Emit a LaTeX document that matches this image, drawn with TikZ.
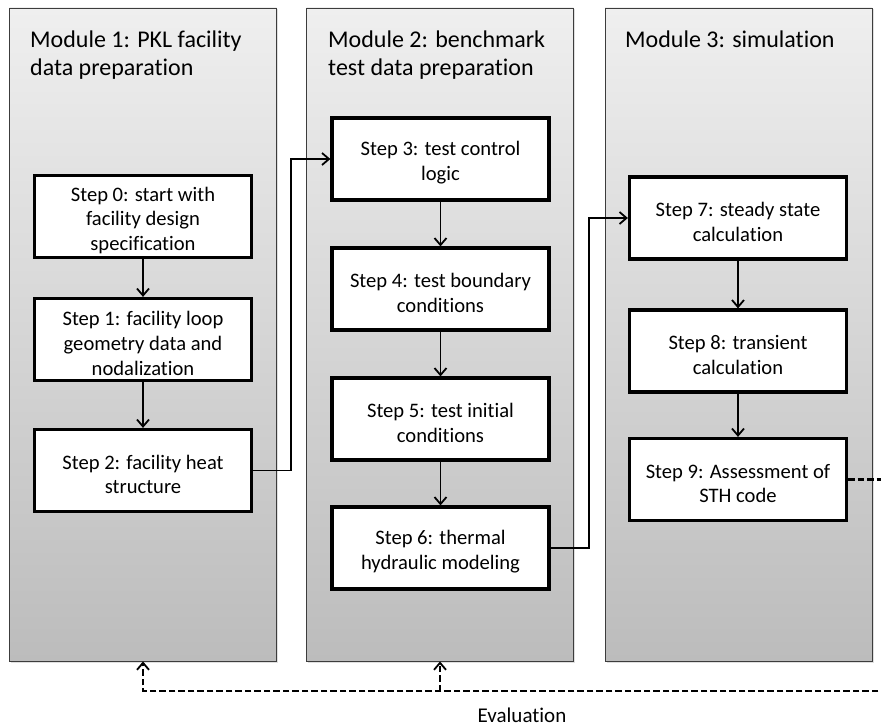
\documentclass[tikz,border=0pt]{standalone}
\usepackage{fontspec}
\setmainfont{Carlito}[Ligatures=NoCommon]
\usetikzlibrary{arrows.meta,shadows}

\definecolor{paneltop}{RGB}{239,239,239}
\definecolor{panelbot}{RGB}{188,188,188}
\definecolor{panelline}{RGB}{60,60,60}

% invisible strut that makes a first line taller, setting the box text a little lower
\newcommand{\lowerstrut}{\rule{0pt}{22pt}}

\begin{document}
\begin{tikzpicture}[x=1pt,y=-1pt,
  panel/.style={draw=panelline, line width=0.9pt, top color=paneltop, bottom color=panelbot,
    minimum width=267pt, minimum height=653pt, inner sep=0pt,
    drop shadow={opacity=0.25, shadow xshift=1.5pt, shadow yshift=-1.5pt}},
  title/.style={anchor=north west, align=left, inner sep=0pt,
    font=\fontsize{24}{28}\selectfont},
  stepbox/.style={draw=black, line width=3.2pt, fill=white, align=center,
    minimum width=217pt, minimum height=82pt, inner sep=0pt,
    font=\fontsize{20.6}{24.8}\selectfont},
  flow/.style={line width=1.8pt, -{Straight Barb[length=7pt,width=12pt,line width=1.8pt]}},
  feedback/.style={line width=2.2pt, dash pattern=on 6.5pt off 3pt,
    -{Straight Barb[length=7pt,width=12pt,line width=1.8pt]}},
]
\useasboundingbox (0,0) rectangle (881,727);
\clip (0,0) rectangle (881,727);
\fill[white] (0,0) rectangle (881,727);

% module panels
\node[panel] (m1) at (143,334.5) {};
\node[panel] (m2) at (440,334.5) {};
\node[panel] (m3) at (738.5,334.5) {};

\node[title] (t1) at (30,31) {Module 1: PKL facility\\data preparation};
\node[title] (t2) at (328,31) {Module 2: benchmark\\test data preparation};
\node[title] (t3) at (625,31) {Module 3: simulation};

% module 1 steps
\node[stepbox] (s0) at (143,216.5) {\lowerstrut Step 0: start with\\facility design\\specification};
\node[stepbox] (s1) at (143,339.5) {\lowerstrut Step 1: facility loop\\geometry data and\\nodalization};
\node[stepbox] (s2) at (143,470.5) {\lowerstrut Step 2: facility heat\\structure};

% module 2 steps
\node[stepbox] (s3) at (440.5,159) {\lowerstrut Step 3: test control\\logic};
\node[stepbox] (s4) at (440.5,289) {\lowerstrut Step 4: test boundary\\conditions};
\node[stepbox] (s5) at (440.5,419) {\lowerstrut Step 5: test initial\\conditions};
\node[stepbox] (s6) at (440.5,548) {\lowerstrut Step 6: thermal\\hydraulic modeling};

% module 3 steps
\node[stepbox] (s7) at (738,218) {\lowerstrut Step 7: steady state\\calculation};
\node[stepbox] (s8) at (738,351) {\lowerstrut Step 8: transient\\calculation};
\node[stepbox] (s9) at (738,479.5) {\lowerstrut Step 9: Assessment of\\STH code};

% forward flow
\draw[flow] (s0) -- (s1);
\draw[flow] (s1) -- (s2);
\draw[flow] (s3) -- (s4);
\draw[flow] (s4) -- (s5);
\draw[flow] (s5) -- (s6);
\draw[flow] (s7) -- (s8);
\draw[flow] (s8) -- (s9);
\draw[flow] (s2.east) -- ([xshift=38pt]s2.east) |- (s3.west);
\draw[flow] (s6.east) -- ([xshift=38pt]s6.east) |- (s7.west);

% evaluation feedback loop
\coordinate (fbA) at (900,479.5);
\coordinate (fbB) at (900,691);
\draw[feedback] (s9.east) -- (fbA) -- (fbB) -| (m1.south);
\draw[feedback] (m2.south |- fbB) -- (m2.south);
\node[font=\fontsize{21}{24}\selectfont, inner sep=0pt, anchor=base] (ev) at (522,722.5) {Evaluation};
\end{tikzpicture}
\end{document}
